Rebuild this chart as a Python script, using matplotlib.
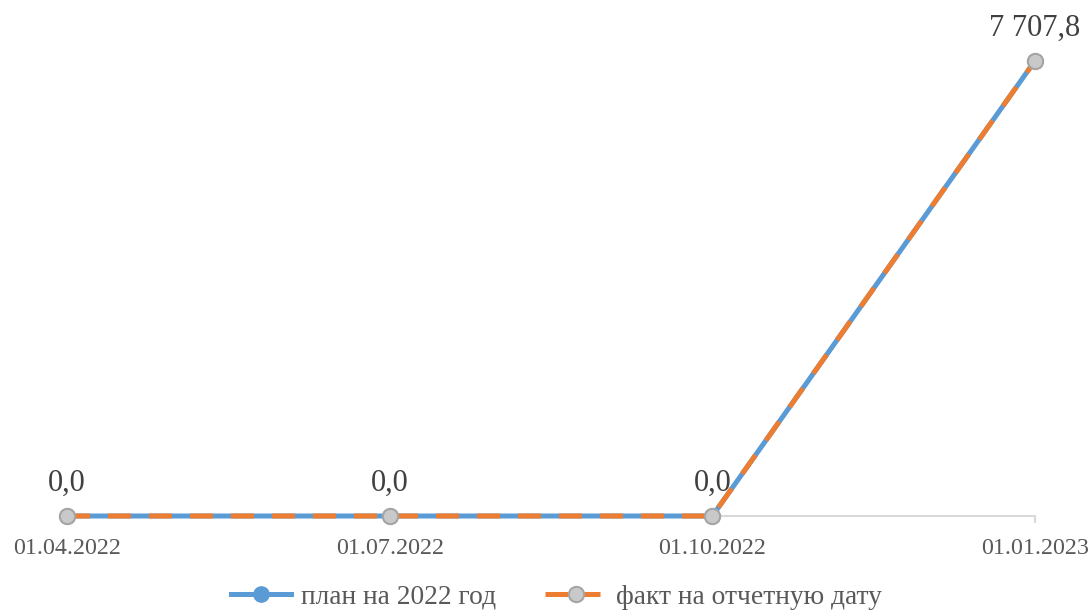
import numpy as np
import matplotlib.pyplot as plt
from matplotlib.lines import Line2D

# данные
dates = ['01.04.2022', '01.07.2022', '01.10.2022', '01.01.2023']
plan = [0.0, 0.0, 0.0, 7707.8]
fact = [0.0, 0.0, 0.0, 7707.8]

plt.rcParams['font.family'] = ['Liberation Serif', 'DejaVu Serif']

blue = '#5B9BD5'
orange = '#ED7D31'
txt = '#404040'

fig = plt.figure(figsize=(10.92, 6.14), dpi=100)
ax = fig.add_axes([67 / 1092, 98 / 614, (1035 - 67) / 1092, 502 / 614])

x = np.arange(len(dates))
ax.plot(x, plan, color=blue, lw=3.6, marker='o', ms=11, mfc=blue, mec=blue,
        clip_on=False, zorder=3)
ax.plot(x, fact, color=orange, lw=3.6, dashes=(4.6, 3.6), marker='o', ms=11,
        mfc='#C9C9C9', mec='#A5A5A5', mew=1.5, clip_on=False, zorder=4)

def fmt(v):
    s = '{:,.1f}'.format(v).replace(',', ' ').replace('.', ',')
    return s

for xi, v in zip(x, fact):
    ax.annotate(fmt(v), (xi, v), xytext=(0, 13), textcoords='offset points',
                ha='center', va='bottom', fontsize=22, color=txt)

ax.set_xlim(0, 3)
ax.set_ylim(0, 8500)
ax.set_yticks([])
for s in ['top', 'right', 'left']:
    ax.spines[s].set_visible(False)
ax.spines['bottom'].set_color('#D9D9D9')
ax.spines['bottom'].set_linewidth(1.5)
ax.set_xticks(x)
ax.set_xticklabels(dates, fontsize=17.3, color='#595959')
ax.tick_params(axis='x', color='#D9D9D9', width=1.5, length=5, pad=11)

handles = [
    Line2D([], [], color=blue, lw=3.6, marker='o', ms=11, mfc=blue, mec=blue),
    Line2D([], [], color=orange, lw=3.6, dashes=(4.5, 2), marker='o', ms=11,
           mfc='#C9C9C9', mec='#A5A5A5', mew=1.5),
]
fig.legend(handles, ['план на 2022 год', 'факт на отчетную дату'],
           loc='center', bbox_to_anchor=(556 / 1092, 1 - 597 / 614), ncol=2,
           frameon=False, fontsize=19.8, labelcolor='#595959',
           handlelength=2.2, handletextpad=0.35, columnspacing=1.8)

fig.savefig('out.png', dpi=100)
